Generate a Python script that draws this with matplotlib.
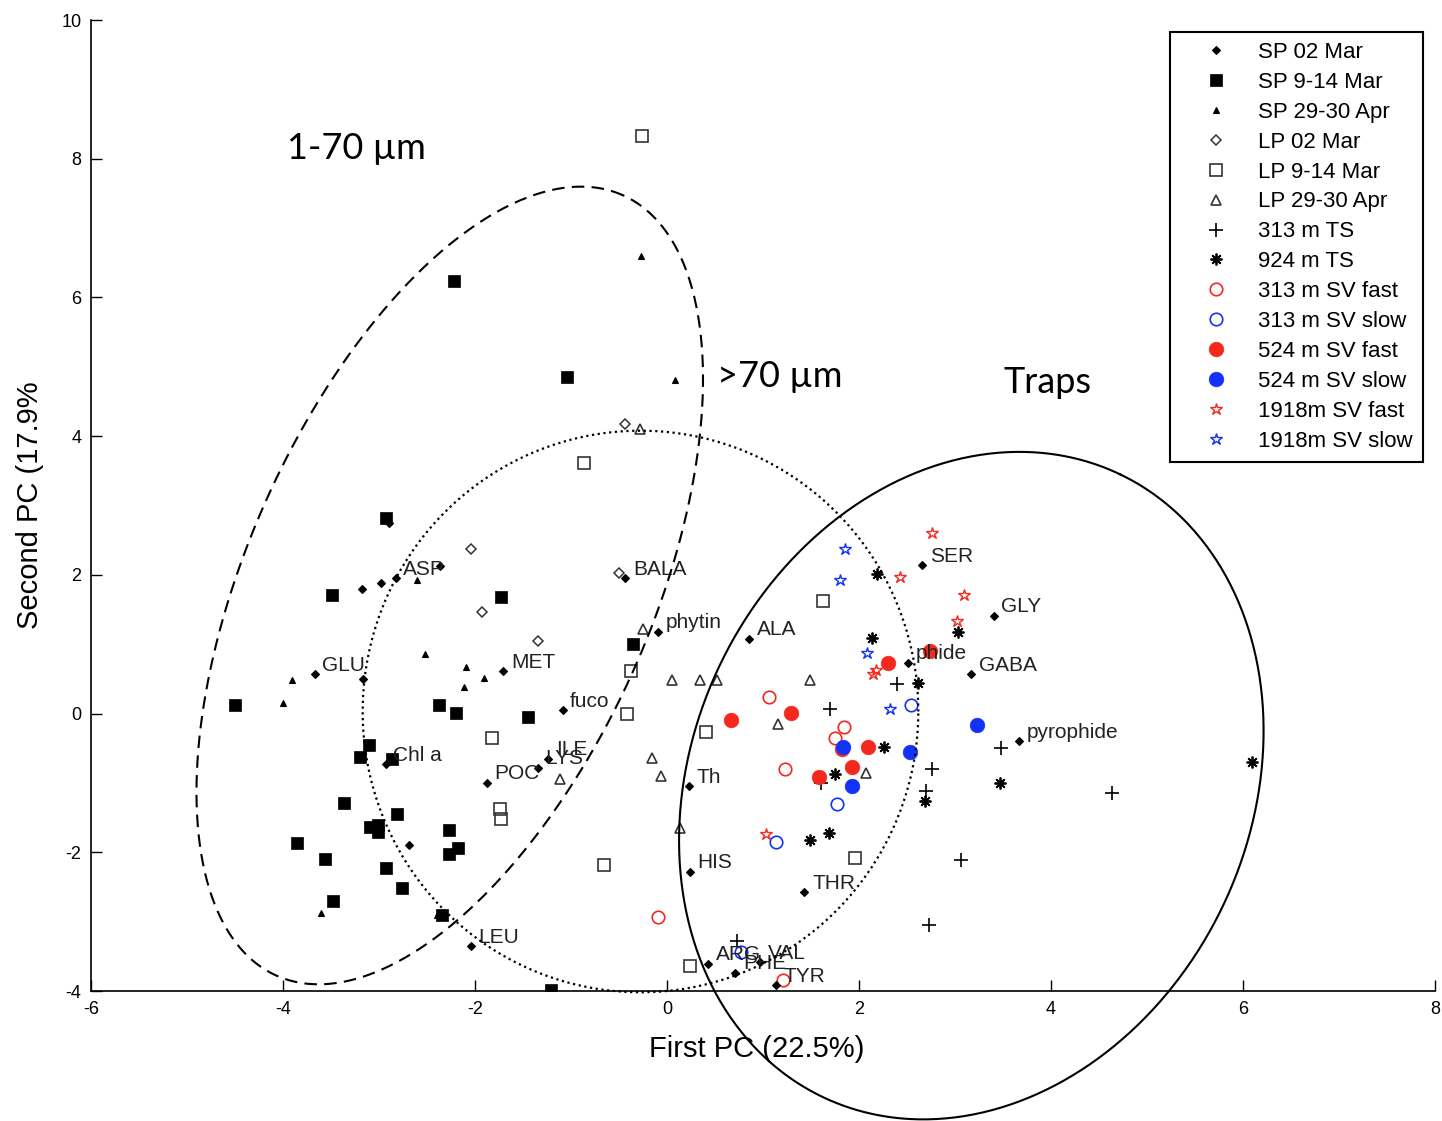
import numpy as np
import matplotlib.pyplot as plt
from matplotlib.lines import Line2D

plt.rcParams['axes.unicode_minus'] = False

# scores of the samples on the first two principal components
sp02_x = [-3.173, -2.975, -3.163, -2.690, -2.896, -2.364]
sp02_y = [1.801, 1.879, 0.502, -1.902, 2.753, 2.128]

sp914_x = [-2.221, -1.043, -2.930, -3.493, -4.505, -1.731, -0.351, -1.453, -2.374, -2.200,
           -3.104, -3.198, -2.868, -3.365, -2.815, -3.097, -3.010, -3.006, -2.276, -2.182,
           -2.276, -3.851, -3.566, -2.930, -2.763, -3.476, -2.346, -1.210]
sp914_y = [6.237, 4.846, 2.817, 1.710, 0.123, 1.681, 1.007, -0.051, 0.123, 0.003,
           -0.459, -0.623, -0.661, -1.296, -1.455, -1.633, -1.609, -1.710, -1.681, -1.945,
           -2.023, -1.864, -2.095, -2.225, -2.514, -2.696, -2.898, -3.980]

sp2930_x = [-0.271, 0.080, -2.606, -3.903, -4.001, -2.520, -2.093, -2.110, -1.905, -3.608, -2.398]
sp2930_y = [6.602, 4.808, 1.926, 0.479, 0.156, 0.854, 0.675, 0.387, 0.517, -2.874, -2.898]

lp02_x = [-2.044, -1.932, -1.348, -0.495, -0.435]
lp02_y = [2.369, 1.465, 1.046, 2.032, 4.182]

lp914_x = [-0.264, -0.862, -0.375, -0.417, -1.818, 0.407, -1.741, -1.724, -0.660, 0.240, 1.624, 1.960]
lp914_y = [8.323, 3.619, 0.613, -0.012, -0.349, -0.263, -1.382, -1.518, -2.190, -3.633, 1.623, -2.081]

lp2930_x = [-0.285, -0.253, 0.049, 0.347, 0.521, -0.156, -0.063, -1.113, 1.491, 1.154, 2.075, 0.139]
lp2930_y = [4.110, 1.224, 0.483, 0.483, 0.483, -0.638, -0.902, -0.950, 0.483, -0.156, -0.854, -1.648]

ts313_x = [2.395, 1.700, 2.760, 2.701, 3.476, 1.606, 4.637, 3.066, 2.729, 0.727]
ts313_y = [0.430, 0.061, -0.805, -1.118, -0.502, -0.998, -1.152, -2.114, -3.042, -3.273]

ts924_x = [2.190, 2.134, 3.031, 2.614, 2.256, 1.752, 3.465, 2.683, 1.692, 1.494, 6.097]
ts924_y = [2.017, 1.085, 1.176, 0.444, -0.483, -0.869, -0.998, -1.263, -1.729, -1.830, -0.695]

sv313f_x = [1.060, 1.842, 1.752, 1.234, -0.097, 1.213]
sv313f_y = [0.242, -0.195, -0.349, -0.805, -2.937, -3.846]

sv313s_x = [2.544, 1.773, 1.137, 0.772]
sv313s_y = [0.123, -1.310, -1.854, -3.437]

sv524f_x = [0.667, 1.293, 2.301, 2.735, 2.093, 1.926, 1.588, 1.825]
sv524f_y = [-0.094, 0.012, 0.733, 0.902, -0.483, -0.768, -0.916, -0.517]

sv524s_x = [1.832, 2.527, 1.926, 3.233]
sv524s_y = [-0.483, -0.551, -1.046, -0.166]

sv1918f_x = [2.760, 2.422, 3.094, 3.021, 2.172, 2.145, 1.032]
sv1918f_y = [2.609, 1.970, 1.705, 1.335, 0.623, 0.574, -1.743]

sv1918s_x = [1.856, 1.804, 2.082, 2.325]
sv1918s_y = [2.378, 1.922, 0.869, 0.069]

# variable loadings (scaled) with their names
var_names = ['ASP', 'GLU', 'MET', 'fuco', 'BALA', 'phytin', 'ALA', 'ILE', 'LYS', 'POC',
             'Th', 'Chl a', 'LEU', 'HIS', 'ARG', 'VAL', 'PHE', 'TYR', 'THR', 'SER',
             'GLY', 'phide', 'GABA', 'pyrophide']
var_x = [-2.826, -3.670, -1.707, -1.088, -0.435, -0.094, 0.858, -1.238, -1.348, -1.877,
         0.226, -2.930, -2.044, 0.240, 0.431, 0.973, 0.712, 1.137, 1.432, 2.656,
         3.402, 2.510, 3.170, 3.663]
var_y = [1.951, 0.566, 0.609, 0.046, 1.951, 1.176, 1.079, -0.652, -0.782, -0.999,
         -1.046, -0.733, -3.355, -2.283, -3.610, -3.586, -3.740, -3.918, -2.576, 2.139,
         1.407, 0.733, 0.566, -0.397]

red = '#f5281e'
blue = '#1432f5'
black = 'black'

series = [
    ('SP 02 Mar', sp02_x, sp02_y, dict(marker='D', ms=4, mfc=black, mec=black, mew=0.8)),
    ('SP 9-14 Mar', sp914_x, sp914_y, dict(marker='s', ms=8.5, mfc=black, mec=black, mew=0.5)),
    ('SP 29-30 Apr', sp2930_x, sp2930_y, dict(marker='^', ms=5, mfc=black, mec=black, mew=0.8)),
    ('LP 02 Mar', lp02_x, lp02_y, dict(marker='D', ms=5.5, mfc='none', mec='#333333', mew=1.1)),
    ('LP 9-14 Mar', lp914_x, lp914_y, dict(marker='s', ms=8.5, mfc='none', mec='#333333', mew=1.2)),
    ('LP 29-30 Apr', lp2930_x, lp2930_y, dict(marker='^', ms=7, mfc='none', mec='#333333', mew=1.2)),
    ('313 m TS', ts313_x, ts313_y, dict(marker='+', ms=10, mec=black, mew=1.2)),
    ('924 m TS', ts924_x, ts924_y, dict(marker=(8, 2, 0), ms=8.5, mec=black, mew=1.3)),
    ('313 m SV fast', sv313f_x, sv313f_y, dict(marker='o', ms=9, mfc='none', mec=red, mew=1.2)),
    ('313 m SV slow', sv313s_x, sv313s_y, dict(marker='o', ms=9, mfc='none', mec=blue, mew=1.2)),
    ('524 m SV fast', sv524f_x, sv524f_y, dict(marker='o', ms=10.5, mfc=red, mec=red, mew=0.5)),
    ('524 m SV slow', sv524s_x, sv524s_y, dict(marker='o', ms=10.5, mfc=blue, mec=blue, mew=0.5)),
    ('1918m SV fast', sv1918f_x, sv1918f_y, dict(marker='*', ms=9, mfc='none', mec=red, mew=1.0)),
    ('1918m SV slow', sv1918s_x, sv1918s_y, dict(marker='*', ms=9, mfc='none', mec=blue, mew=1.0)),
]

# group outlines: centre, semi-axes (x units, screen space), tilt in degrees
groups = [
    ('1-70 µm', -2.263, 1.847, 4.447, 2.108, 66.1, (0, (6, 3.5)), 1.5),
    ('>70 µm', -0.276, 0.030, 2.894, 2.925, 0.0, (0, (1, 1.6)), 1.6),
    ('Traps', 3.170, -1.039, 3.594, 2.905, 64.5, '-', 1.5),
]
group_text = [('1-70 µm', -3.96, 8.15), ('>70 µm', 0.52, 4.86), ('Traps', 3.51, 4.78)]

W, H = 1442, 1121
fig = plt.figure(figsize=(W / 100, H / 100), dpi=100)
ax = fig.add_axes([91 / W, 1 - 991 / H, 1344 / W, 971 / H])

for name, x, y, st in series:
    ax.plot(x, y, linestyle='none', label=name, zorder=3, **st)

sp_style = series[0][3]
ax.plot(var_x, var_y, linestyle='none', zorder=3, **sp_style)
for name, x, y in zip(var_names, var_x, var_y):
    ax.annotate(name, (x, y), xytext=(5.5, 6.5), textcoords='offset points',
                ha='left', va='center', fontsize=15, color='#222222',
                family='Liberation Sans', zorder=4)

ax.set_xlim(-6, 8)
ax.set_ylim(-4, 10)
ax.set_xticks(np.arange(-6, 9, 2))
ax.set_yticks(np.arange(-4, 11, 2))

# ellipses drawn in screen proportions so the tilt looks right
pos = ax.get_position()
k = (pos.height * H / 14) / (pos.width * W / 14)
t = np.linspace(0, 2 * np.pi, 600)
for name, cx, cy, a, b, ang, ls, lw in groups:
    r = np.deg2rad(ang)
    u, v = a * np.cos(t), b * np.sin(t)
    ex = cx + u * np.cos(r) - v * np.sin(r)
    ey = cy + (u * np.sin(r) + v * np.cos(r)) / k
    ax.plot(ex, ey, color='black', linestyle=ls, lw=lw, clip_on=False, zorder=5)

for txt, x, y in group_text:
    ax.text(x, y, txt, fontsize=26, family='Lato', ha='left', va='center', color='black')

for s in ['top', 'right']:
    ax.spines[s].set_visible(False)
for s in ['left', 'bottom']:
    ax.spines[s].set_linewidth(1.2)
ax.tick_params(direction='in', length=8, width=1, labelsize=13, pad=7)
for lab in ax.get_xticklabels() + ax.get_yticklabels():
    lab.set_family('Liberation Sans')

ax.set_xlabel('First PC (22.5%)', fontsize=21, family='Liberation Sans')
ax.set_ylabel('Second PC (17.9%', fontsize=21, family='Liberation Sans')
ax.xaxis.set_label_coords(0.495, -0.045)
ax.yaxis.set_label_coords(-0.035, 0.50)

handles = [Line2D([], [], linestyle='none', **st) for _, _, _, st in series]
labels = [s[0] for s in series]
leg = ax.legend(handles, labels, loc='upper right', bbox_to_anchor=(1423 / W, 1 - 32 / H),
                bbox_transform=fig.transFigure, borderaxespad=0, fancybox=False,
                framealpha=1, edgecolor='black', numpoints=1, handlelength=3.2,
                handletextpad=0.32, borderpad=0.45, labelspacing=0.40,
                prop={'family': 'Liberation Sans', 'size': 16})
leg.get_frame().set_linewidth(1.5)
leg.set_zorder(6)

fig.savefig('out.png', dpi=100)
